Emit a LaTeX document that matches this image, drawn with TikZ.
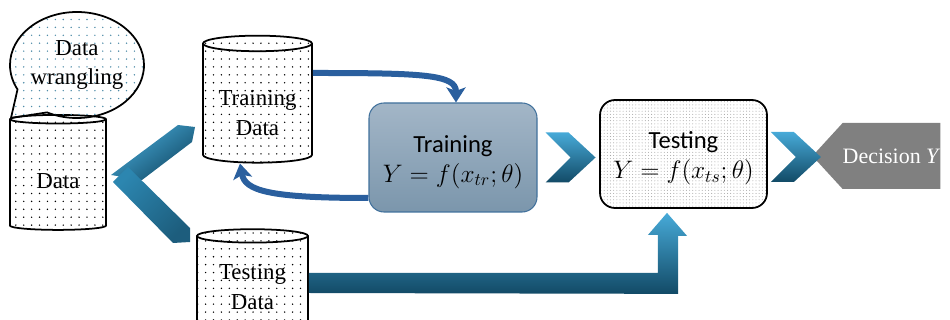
\documentclass[tikz,border=0pt]{standalone}
\usepackage{fontspec}
\setmainfont{Liberation Serif}
\newfontfamily\boxfont{Carlito}
\usetikzlibrary{arrows.meta,positioning,calc,shapes.geometric,shapes.callouts,shapes.symbols,patterns.meta}
\definecolor{flowblue}{HTML}{2A5F9E}
\definecolor{chevTop}{HTML}{47AAD8}
\definecolor{chevMid}{HTML}{2C86B0}
\definecolor{chevBot}{HTML}{124A66}
\definecolor{trainTop}{HTML}{A3B6C7}
\definecolor{trainBot}{HTML}{7B96AC}
\definecolor{trainEdge}{HTML}{41719C}
\definecolor{dotblue}{HTML}{4F8CA8}
\definecolor{decgray}{HTML}{808080}

\begin{document}
\begin{tikzpicture}[
    x=0.2mm, y=-0.2mm,
    store/.style={cylinder, shape border rotate=90, draw, line width=1pt, aspect=0.2, inner sep=0pt,
      pattern={Dots[distance=4.5pt, radius=0.45pt]}, pattern color=black,
      align=center, font=\fontsize{13}{17}\selectfont},
    bubble/.style={ellipse callout, draw, line width=1pt, callout pointer arc=36, inner sep=0pt,
      pattern={Dots[distance=4.5pt, radius=0.45pt]}, pattern color=dotblue,
      minimum width=26.8mm, minimum height=21.2mm, align=center, font=\fontsize{13}{17}\selectfont},
    procbox/.style={rounded corners=3mm, minimum width=33.6mm, minimum height=21.8mm, align=center,
      font=\boxfont\fontsize{14}{17}\selectfont},
    flow/.style={draw=flowblue, line width=1.2mm, -{Stealth[length=3mm, width=3.8mm, inset=0.7mm]}},
    chevron/.pic={
      \shade[top color=chevTop, bottom color=chevBot]
        (0,-25) -- (23,-25) -- (50,0) -- (23,25) -- (0,25) -- (25,0) -- cycle;
    }
  ]
  \clip (0,0) rectangle (950,320);

  % data stores (struts push the text below the top ellipse)
  \node[store, minimum width=19.2mm, minimum height=23mm] (data) at (58,175) {\rule{0pt}{15.4pt}Data};
  \node[bubble, callout absolute pointer={(11,118)}] (wrangle) at (77,65) {Data\\wrangling};
  \node[store, minimum width=21.8mm, minimum height=25.4mm] (trdata) at (257.5,103.5)
    {\rule{0pt}{19pt}Training\\Data};
  \node[store, minimum width=22.2mm, minimum height=25.4mm] (tsdata) at (252.5,296.5)
    {Testing\\Data\rule[-10.8pt]{0pt}{0pt}};

  % model boxes
  \node[procbox, top color=trainTop, bottom color=trainBot, draw=trainEdge, line width=0.6pt] (train) at (453,157.5)
    {\rule{0pt}{14.7pt}Training\\$Y=f(x_{tr};\theta)$};
  \node[procbox, draw, line width=1pt, minimum width=33.4mm, minimum height=21.6mm,
    pattern={Dots[distance=1.8pt, radius=0.3pt]}, pattern color=gray!70] (test) at (683.5,154)
    {\rule{0pt}{14.7pt}Testing\\$Y=f(x_{ts};\theta)$};
  \node[signal, signal to=west, signal pointer angle=95, fill=decgray, text=white, inner xsep=0pt,
    minimum width=20mm, minimum height=13.2mm, font=\fontsize{12.5}{15}\selectfont] (decision) at (891.5,156)
    {Decision \textit{Y}};

  % split of the data
  \shade[top color=chevTop, bottom color=chevBot, shading angle=36]
    (111,175) -- (178,125) -- (195,127) -- (192,142) -- (142,180) -- cycle;
  \shade[left color=chevMid, right color=chevBot!80!chevTop, shading angle=45]
    (113,182) -- (128,167) -- (190,228) -- (190,242) -- (173,243) -- cycle;

  % training loop
  \draw[flow] ([yshift=6.1mm]trdata.east) .. controls +(110,0) and +(0,-28) .. ([xshift=0.6mm]train.north);
  \draw[flow] ([yshift=-8.1mm]train.west) .. controls +(-100,0) and +(5,27) .. ([xshift=-3.5mm]trdata.south);

  % testing data into the test box
  \coordinate (tip) at ([xshift=-3.3mm, yshift=-0.8mm]test.south);
  \shade[top color=chevTop, bottom color=chevBot]
    (tip) -- ++(20,23) -- ++(-9,0) -- ++(0,58) -- ([yshift=0.7mm]tsdata.east)
    -- ([yshift=4.7mm]tsdata.east) -- ++(349,0) -- ++(0,-38) -- ++(-10,0) -- cycle;

  % chevrons between the stages
  \path ([xshift=1.6mm]train.east) pic {chevron};
  \path ([xshift=0.6mm, yshift=-0.6mm]test.east) pic {chevron};
\end{tikzpicture}
\end{document}
